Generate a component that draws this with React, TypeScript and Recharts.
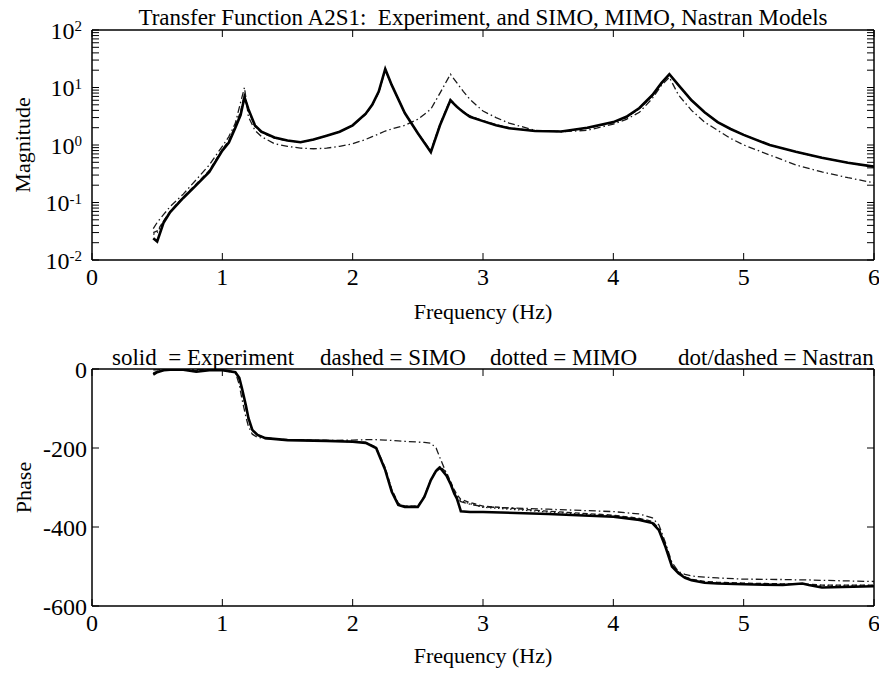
import { LineChart, Line, XAxis, YAxis } from "recharts";

const FONT = "Liberation Serif, Times New Roman, serif";
const serif = { fontFamily: FONT };

// frequency axis (Hz)
const freqTicks = [0, 1, 2, 3, 4, 5, 6];

// magnitude plot, log axis
const magDecades = [0.01, 0.1, 1, 10, 100];
const minorSteps = [2, 3, 4, 5, 6, 7, 8, 9];

const magFreq = [
  0.47, 0.5, 0.55, 0.6, 0.7, 0.8, 0.9, 1.0, 1.05, 1.1,
  1.14, 1.17, 1.2, 1.25, 1.3, 1.4, 1.5, 1.6, 1.7, 1.8,
  1.9, 2.0, 2.1, 2.15, 2.2, 2.25, 2.3, 2.4, 2.5, 2.6,
  2.67, 2.75, 2.8, 2.85, 2.9, 3.0, 3.1, 3.2, 3.4, 3.6,
  3.8, 4.0, 4.1, 4.2, 4.3, 4.37, 4.43, 4.5, 4.6, 4.7,
  4.8, 4.9, 5.0, 5.2, 5.4, 5.6, 5.8, 6.0,
];
const magExperiment = [
  0.024, 0.021, 0.045, 0.068, 0.12, 0.2, 0.34, 0.8, 1.1, 2.0,
  3.3, 6.8, 4.2, 2.2, 1.7, 1.35, 1.2, 1.12, 1.25, 1.45,
  1.7, 2.2, 3.5, 5.0, 8.5, 21, 11, 3.6, 1.6, 0.75,
  2.2, 6.0, 4.6, 3.7, 3.1, 2.6, 2.2, 1.95, 1.75, 1.72,
  2.0, 2.5, 3.1, 4.4, 7.4, 12, 17, 11, 6.0, 3.7,
  2.5, 1.9, 1.5, 1.0, 0.76, 0.6, 0.49, 0.42,
];
const magSimo = [
  0.03, 0.032, 0.048, 0.07, 0.125, 0.21, 0.36, 0.84, 1.2, 2.2,
  3.8, 7.6, 4.0, 2.1, 1.65, 1.32, 1.18, 1.12, 1.24, 1.45,
  1.7, 2.2, 3.4, 4.9, 8.2, 20, 11, 3.6, 1.6, 0.8,
  2.3, 6.2, 4.7, 3.8, 3.2, 2.65, 2.25, 2.0, 1.75, 1.72,
  1.95, 2.45, 3.0, 4.3, 7.2, 11.8, 17, 11, 6.0, 3.7,
  2.5, 1.9, 1.5, 1.0, 0.76, 0.6, 0.49, 0.42,
];
const magMimo = [
  0.028, 0.03, 0.047, 0.069, 0.122, 0.2, 0.35, 0.82, 1.15, 2.1,
  3.5, 7.2, 4.1, 2.15, 1.68, 1.34, 1.19, 1.12, 1.25, 1.45,
  1.7, 2.2, 3.45, 5.0, 8.4, 20.5, 11, 3.6, 1.6, 0.78,
  2.25, 6.1, 4.6, 3.75, 3.15, 2.6, 2.2, 1.97, 1.75, 1.72,
  1.97, 2.45, 3.0, 4.3, 7.3, 12, 17, 11, 6.0, 3.7,
  2.5, 1.9, 1.5, 1.0, 0.76, 0.6, 0.49, 0.42,
];
const magNastran = [
  0.035, 0.045, 0.062, 0.085, 0.14, 0.25, 0.45, 0.95, 1.4, 2.4,
  5.5, 10, 3.1, 1.8, 1.4, 1.05, 0.95, 0.88, 0.86, 0.88,
  0.95, 1.05, 1.25, 1.4, 1.55, 1.75, 1.9, 2.2, 2.8, 4.2,
  8.0, 17, 12, 8.5, 6.2, 3.9, 3.0, 2.4, 1.8, 1.7,
  1.8, 2.3, 2.8, 3.7, 6.5, 11, 15, 7.4, 4.0, 2.5,
  1.8, 1.3, 1.0, 0.67, 0.45, 0.34, 0.27, 0.22,
];

// phase plot (deg)
const phaseTicks = [0, -200, -400, -600];
const phaseFreq = [
  0.47, 0.5, 0.55, 0.6, 0.7, 0.8, 0.9, 1.0, 1.1, 1.13,
  1.15, 1.18, 1.2, 1.23, 1.27, 1.33, 1.5, 1.8, 2.0, 2.1,
  2.18, 2.25, 2.3, 2.35, 2.4, 2.5, 2.55, 2.6, 2.64, 2.67,
  2.72, 2.75, 2.78, 2.8, 2.83, 2.9, 3.0, 3.5, 4.0, 4.2,
  4.3, 4.35, 4.4, 4.45, 4.5, 4.55, 4.6, 4.7, 4.8, 5.0,
  5.3, 5.45, 5.5, 5.6, 6.0,
];
const phaseExperiment = [
  -14, -8, -3, -2, -2, -7, -3, -3, -8, -22,
  -48, -91, -124, -154, -167, -175, -180, -182, -184, -187,
  -200, -256, -311, -344, -349, -349, -324, -281, -258, -250,
  -270, -290, -316, -328, -360, -362, -362, -367, -374, -382,
  -390, -408, -450, -500, -517, -529, -535, -541, -543, -545,
  -547, -543, -547, -553, -550,
];
const phaseSimo = [
  -10, -6, -3, -2, -2, -4, -3, -3, -9, -26,
  -55, -98, -128, -155, -167, -174, -179, -181, -183, -186,
  -198, -250, -305, -340, -347, -347, -322, -280, -256, -246,
  -262, -284, -306, -318, -330, -338, -347, -360, -370, -378,
  -386, -404, -447, -497, -514, -526, -532, -538, -540, -542,
  -544, -544, -545, -547, -547,
];
const phaseMimo = [
  -12, -7, -3, -2, -2, -5, -3, -3, -9, -24,
  -52, -95, -126, -155, -167, -175, -180, -182, -184, -187,
  -199, -253, -308, -342, -348, -348, -323, -281, -257, -248,
  -265, -287, -310, -322, -334, -341, -350, -362, -372, -380,
  -388, -406, -448, -498, -515, -527, -533, -539, -541, -543,
  -545, -545, -546, -548, -548,
];
const phaseNastran = [
  -2, -2, -1, -1, -1, -1, -1, -2, -8, -40,
  -75, -120, -145, -165, -173, -176, -180, -181, -180, -179,
  -179, -180, -181, -182, -183, -185, -186, -188, -200, -225,
  -265, -290, -315, -328, -336, -342, -349, -355, -361, -367,
  -377, -395, -440, -490, -513, -520, -524, -527, -529, -532,
  -533, -534, -534, -535, -538,
];

const magTicks = magDecades.flatMap((d) =>
  d === 100 ? [d] : [d, ...minorSteps.map((k) => d * k)]
);

const magData = magFreq.map((f, i) => ({
  f,
  exp: magExperiment[i],
  simo: magSimo[i],
  mimo: magMimo[i],
  nas: magNastran[i],
}));
const phaseData = phaseFreq.map((f, i) => ({
  f,
  exp: phaseExperiment[i],
  simo: phaseSimo[i],
  mimo: phaseMimo[i],
  nas: phaseNastran[i],
}));

const TICK_LEN = 7;
const axisStroke = { stroke: "#000", strokeWidth: 1.5 };

type Side = "left" | "right" | "top" | "bottom";

function isDecade(v: number) {
  const l = Math.log10(v);
  return Math.abs(l - Math.round(l)) < 1e-9;
}

// ticks point into the plot (matlab style), label drawn outside
function AxisTick(props: any) {
  const { x, y, payload, side, gap, kind } = props as {
    x: number;
    y: number;
    payload: { value: number };
    side: Side;
    gap: number;
    kind?: "log" | "num" | "none";
  };
  let line = null;
  if (side === "left") {
    const e = x + gap;
    line = <line x1={e} x2={e + TICK_LEN} y1={y} y2={y} stroke="#000" strokeWidth={1} />;
  } else if (side === "right") {
    const e = x - gap;
    line = <line x1={e} x2={e - TICK_LEN} y1={y} y2={y} stroke="#000" strokeWidth={1} />;
  } else if (side === "bottom") {
    const e = y - gap;
    line = <line x1={x} x2={x} y1={e} y2={e - TICK_LEN} stroke="#000" strokeWidth={1} />;
  } else {
    const e = y + gap;
    line = <line x1={x} x2={x} y1={e} y2={e + TICK_LEN} stroke="#000" strokeWidth={1} />;
  }
  let label = null;
  const v = payload.value;
  if (kind === "log" && isDecade(v)) {
    const exp = Math.round(Math.log10(v));
    label = (
      <text x={x} y={y} dy="0.36em" textAnchor="end" fontSize={24} style={serif} fill="#000">
        10
        <tspan dy="-0.5em" fontSize={15}>
          {String(exp)}
        </tspan>
      </text>
    );
  } else if (kind === "num" && (side === "left" || side === "right")) {
    label = (
      <text x={x} y={y} dy="0.36em" textAnchor="end" fontSize={24} style={serif} fill="#000">
        {String(v)}
      </text>
    );
  } else if (kind === "num") {
    label = (
      <text x={x} y={y} dy="0.71em" textAnchor="middle" fontSize={24} style={serif} fill="#000">
        {String(v)}
      </text>
    );
  }
  return (
    <g>
      {line}
      {label}
    </g>
  );
}

function seriesLines() {
  return [
    <Line
      key="nas"
      yAxisId="l"
      xAxisId="b"
      type="linear"
      dataKey="nas"
      stroke="#1a1a1a"
      strokeWidth={1.3}
      strokeDasharray="7 3 1.5 3"
      dot={false}
      isAnimationActive={false}
    />,
    <Line
      key="simo"
      yAxisId="l"
      xAxisId="b"
      type="linear"
      dataKey="simo"
      stroke="#1a1a1a"
      strokeWidth={1.3}
      strokeDasharray="5 3"
      dot={false}
      isAnimationActive={false}
    />,
    <Line
      key="mimo"
      yAxisId="l"
      xAxisId="b"
      type="linear"
      dataKey="mimo"
      stroke="#1a1a1a"
      strokeWidth={1.3}
      strokeDasharray="1.5 2.5"
      dot={false}
      isAnimationActive={false}
    />,
    <Line
      key="exp"
      yAxisId="l"
      xAxisId="b"
      type="linear"
      dataKey="exp"
      stroke="#000"
      strokeWidth={2.6}
      dot={false}
      isAnimationActive={false}
    />,
  ];
}

function freqAxes(labelOffset: number, bottomHeight: number) {
  return [
    <XAxis
      key="xb"
      xAxisId="b"
      type="number"
      dataKey="f"
      domain={[0, 6]}
      ticks={freqTicks}
      interval={0}
      allowDataOverflow
      height={bottomHeight}
      axisLine={axisStroke}
      tickLine={false}
      tickSize={0}
      tickMargin={8}
      tick={(p: any) => <AxisTick {...p} side="bottom" gap={8} kind="num" />}
      label={{
        value: "Frequency (Hz)",
        position: "insideTop",
        offset: labelOffset,
        fontSize: 22,
        fill: "#000",
        style: { fontFamily: FONT },
      }}
    />,
    <XAxis
      key="xt"
      xAxisId="t"
      orientation="top"
      type="number"
      dataKey="f"
      domain={[0, 6]}
      ticks={freqTicks}
      interval={0}
      allowDataOverflow
      height={1}
      axisLine={axisStroke}
      tickLine={false}
      tickSize={0}
      tickMargin={4}
      tick={(p: any) => <AxisTick {...p} side="top" gap={4} kind="none" />}
    />,
  ];
}

export default function App() {
  return (
    <div style={{ position: "relative", width: 879, height: 673, background: "#fff", fontFamily: FONT }}>
      <style>{"body{margin:0;background:#fff}"}</style>
      <div style={{ position: "absolute", left: 0, top: 0 }}>
        <LineChart
          width={879}
          height={335}
          data={magData}
          margin={{ top: 29, right: 4, bottom: 0, left: 0 }}
          style={serif}
        >
          {freqAxes(43, 75)}
          <YAxis
            yAxisId="l"
            type="number"
            scale="log"
            domain={[0.01, 100]}
            ticks={magTicks}
            interval={0}
            allowDataOverflow
            width={92}
            axisLine={axisStroke}
            tickLine={false}
            tickSize={0}
            tickMargin={10}
            tick={(p: any) => <AxisTick {...p} side="left" gap={10} kind="log" />}
            label={{
              value: "Magnitude",
              angle: -90,
              position: "insideLeft",
              offset: 22,
              fontSize: 22,
              fill: "#000",
              style: { textAnchor: "middle", fontFamily: FONT },
            }}
          />
          <YAxis
            yAxisId="r"
            orientation="right"
            type="number"
            scale="log"
            domain={[0.01, 100]}
            ticks={magTicks}
            interval={0}
            allowDataOverflow
            width={1}
            axisLine={axisStroke}
            tickLine={false}
            tickSize={0}
            tickMargin={4}
            tick={(p: any) => <AxisTick {...p} side="right" gap={4} kind="none" />}
          />
          {seriesLines()}
        </LineChart>
      </div>
      <div style={{ position: "absolute", left: 0, top: 335 }}>
        <LineChart
          width={879}
          height={338}
          data={phaseData}
          margin={{ top: 33, right: 4, bottom: 0, left: 0 }}
          style={serif}
        >
          {freqAxes(41, 67)}
          <YAxis
            yAxisId="l"
            type="number"
            domain={[-600, 0]}
            ticks={phaseTicks}
            interval={0}
            allowDataOverflow
            width={92}
            axisLine={axisStroke}
            tickLine={false}
            tickSize={0}
            tickMargin={5}
            tick={(p: any) => <AxisTick {...p} side="left" gap={5} kind="num" />}
            label={{
              value: "Phase",
              angle: -90,
              position: "insideLeft",
              offset: 23,
              fontSize: 22,
              fill: "#000",
              style: { textAnchor: "middle", fontFamily: FONT },
            }}
          />
          <YAxis
            yAxisId="r"
            orientation="right"
            type="number"
            domain={[-600, 0]}
            ticks={phaseTicks}
            interval={0}
            allowDataOverflow
            width={1}
            axisLine={axisStroke}
            tickLine={false}
            tickSize={0}
            tickMargin={4}
            tick={(p: any) => <AxisTick {...p} side="right" gap={4} kind="none" />}
          />
          {seriesLines()}
        </LineChart>
      </div>
      <svg
        width={879}
        height={673}
        style={{ position: "absolute", left: 0, top: 0, pointerEvents: "none", fontFamily: FONT }}
        fontSize={23}
        fill="#000"
      >
        <text x={483} y={25} textAnchor="middle">
          Transfer Function A2S1:{"\u00a0\u00a0"}Experiment, and SIMO, MIMO, Nastran Models
        </text>
        <text x={112} y={365}>solid{"\u00a0\u00a0"}= Experiment</text>
        <text x={320} y={365}>dashed = SIMO</text>
        <text x={490} y={365}>dotted = MIMO</text>
        <text x={678} y={365}>dot/dashed = Nastran</text>
      </svg>
    </div>
  );
}
